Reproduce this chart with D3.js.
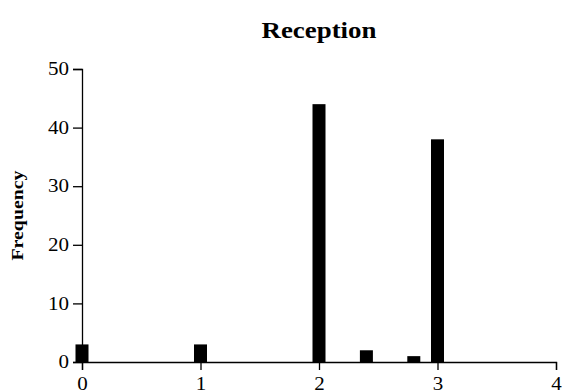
<!DOCTYPE html>
<html>
<head>
<meta charset="utf-8">
<script src="https://cdn.jsdelivr.net/npm/d3@7"></script>
<style>
  body { margin: 0; background: #fff; }
  svg text { font-family: "Liberation Serif", "Times New Roman", serif; fill: #000; }
</style>
</head>
<body>
<div id="chart"></div>
<script>
// reception score values and how often each occurs
const scores = [0, 1, 2, 2.4, 2.8, 3];
const counts = [3, 3, 44, 2, 1, 38];
const xTicks = [0, 1, 2, 3, 4];
const yTicks = [0, 10, 20, 30, 40, 50];

const width = 562, height = 392;
const margin = { top: 69, right: 6, bottom: 30, left: 82 };
const barWidth = 13;

const svg = d3.select('#chart').append('svg')
    .attr('width', width).attr('height', height);

const x = d3.scaleLinear().domain([0, 4]).range([margin.left, width - margin.right]);
const y = d3.scaleLinear().domain([0, 50]).range([height - margin.bottom, margin.top]);

svg.selectAll('rect.bar')
    .data(scores)
    .enter()
    .append('rect')
    .attr('class', 'bar')
    .attr('x', d => x(d) - barWidth / 2)
    .attr('y', (d, i) => y(counts[i]))
    .attr('width', barWidth)
    .attr('height', (d, i) => y(0) - y(counts[i]))
    .attr('fill', '#000');

const xAxis = svg.append('g')
    .attr('transform', `translate(0,${y(0)})`)
    .call(d3.axisBottom(x).tickValues(xTicks).tickFormat(d3.format('d'))
        .tickSize(8).tickPadding(7));

const yAxis = svg.append('g')
    .attr('transform', `translate(${x(0)},0)`)
    .call(d3.axisLeft(y).tickValues(yTicks).tickSize(9).tickPadding(4));

[xAxis, yAxis].forEach(g => {
    g.attr('font-family', '"Liberation Serif", serif').attr('font-size', 18);
    g.selectAll('path, line').attr('stroke', '#000').attr('stroke-width', 1.3);
    g.selectAll('text')
        .attr('font-family', '"Liberation Serif", serif')
        .attr('font-size', 18)
        .attr('textLength', d => String(d).length * 10.5)
        .attr('lengthAdjust', 'spacingAndGlyphs');
});

svg.append('text')
    .attr('x', (x(0) + x(4)) / 2)
    .attr('y', 38)
    .attr('text-anchor', 'middle')
    .attr('font-weight', 'bold')
    .attr('font-size', 24)
    .attr('textLength', 115)
    .attr('lengthAdjust', 'spacingAndGlyphs')
    .text('Reception');

svg.append('text')
    .attr('transform', `translate(23,${(y(0) + y(50)) / 2}) rotate(-90)`)
    .attr('text-anchor', 'middle')
    .attr('font-weight', 'bold')
    .attr('font-size', 16)
    .attr('textLength', 90)
    .attr('lengthAdjust', 'spacingAndGlyphs')
    .text('Frequency');
</script>
</body>
</html>
